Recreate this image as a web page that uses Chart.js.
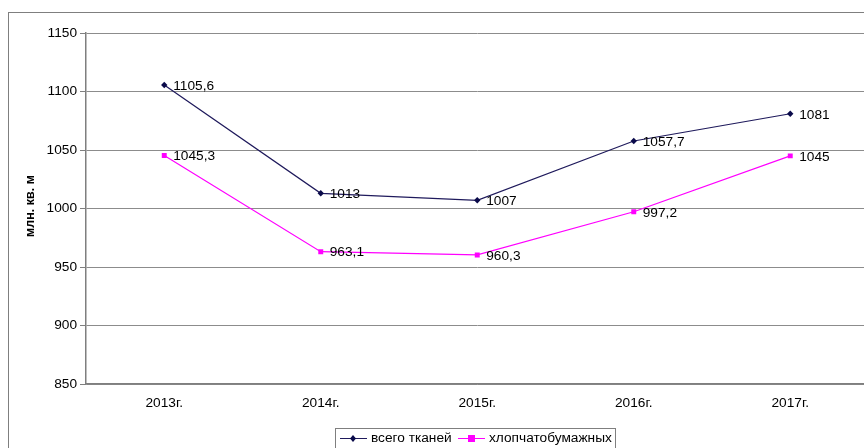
<!DOCTYPE html>
<html>
<head>
<meta charset="utf-8">
<script src="https://cdn.jsdelivr.net/npm/chart.js@4"></script>
<style>
  html, body { margin: 0; padding: 0; background: #fff; overflow: hidden; }
  #frame { position: absolute; left: 8px; top: 12px; width: 900px; height: 500px; border: 1px solid #7f7f7f; }
  #wrap { position: absolute; left: 0; top: 0; width: 872px; height: 460px; }
</style>
</head>
<body>
<div id="frame"></div>
<div id="wrap"><canvas id="chart" width="872" height="460"></canvas></div>
<script>
// Production of fabrics, mln sq. m
const years = ['2013г.', '2014г.', '2015г.', '2016г.', '2017г.'];
const totalFabrics = [1105.6, 1013, 1007, 1057.7, 1081];
const cottonFabrics = [1045.3, 963.1, 960.3, 997.2, 1045];
const yTicks = [850, 900, 950, 1000, 1050, 1100, 1150];

const fontFamily = '"Liberation Sans", Arial, sans-serif';
const fontSize = 13.7;

function fmt(v) {
    return String(v).replace('.', ',');
}

// value labels to the right of each point
const valueLabels = {
    id: 'valueLabels',
    afterDatasetsDraw(chart) {
        const ctx = chart.ctx;
        ctx.save();
        ctx.font = fontSize + 'px ' + fontFamily;
        ctx.fillStyle = '#000';
        ctx.textAlign = 'left';
        ctx.textBaseline = 'middle';
        chart.data.datasets.forEach((ds, i) => {
            chart.getDatasetMeta(i).data.forEach((pt, j) => {
                ctx.fillText(fmt(ds.data[j]), pt.x + 9, pt.y + 1);
            });
        });
        ctx.restore();
    }
};

// y axis title and boxed legend at the bottom
const extras = {
    id: 'extras',
    afterDraw(chart) {
        const ctx = chart.ctx;
        ctx.save();
        ctx.font = 'bold 12.5px ' + fontFamily;
        ctx.fillStyle = '#000';
        ctx.textAlign = 'center';
        ctx.textBaseline = 'middle';
        ctx.translate(31, 206);
        ctx.rotate(-Math.PI / 2);
        ctx.fillText('млн. кв. м', 0, 0);
        ctx.restore();

        ctx.save();
        ctx.strokeStyle = '#7f7f7f';
        ctx.lineWidth = 1;
        ctx.strokeRect(335.5, 428.5, 280, 40);
        ctx.font = fontSize + 'px ' + fontFamily;
        ctx.textBaseline = 'middle';
        ctx.textAlign = 'left';
        const items = [{ x: 340, ds: chart.data.datasets[0], shape: 'diamond' },
                       { x: 458, ds: chart.data.datasets[1], shape: 'square' }];
        const y = 438;
        items.forEach(it => {
            ctx.strokeStyle = it.ds.borderColor;
            ctx.fillStyle = it.ds.backgroundColor;
            ctx.beginPath();
            ctx.moveTo(it.x, y + 0.5);
            ctx.lineTo(it.x + 27, y + 0.5);
            ctx.stroke();
            const cx = it.x + 13;
            if (it.shape === 'diamond') {
                ctx.beginPath();
                ctx.moveTo(cx, y - 3);
                ctx.lineTo(cx + 3, y + 0.5);
                ctx.lineTo(cx, y + 4);
                ctx.lineTo(cx - 3, y + 0.5);
                ctx.closePath();
                ctx.fill();
            } else {
                ctx.fillRect(cx - 3, y - 3, 7, 7);
            }
            ctx.fillStyle = '#000';
            ctx.fillText(it.ds.label, it.x + 31, y);
        });
        ctx.restore();
    }
};

const ctx = document.getElementById('chart').getContext('2d');
new Chart(ctx, {
    type: 'line',
    data: {
        labels: years,
        datasets: [{
            label: 'всего тканей',
            data: totalFabrics,
            borderColor: '#1f1a5c',
            backgroundColor: '#0a0a4a',
            borderWidth: 1.2,
            pointStyle: 'rectRot',
            pointRadius: 3.2,
            pointHoverRadius: 3.2,
            pointBorderWidth: 0,
            tension: 0
        }, {
            label: 'хлопчатобумажных',
            data: cottonFabrics,
            borderColor: '#ff00ff',
            backgroundColor: '#ff00ff',
            borderWidth: 1.2,
            pointStyle: 'rect',
            pointRadius: 3.5,
            pointHoverRadius: 3.5,
            pointBorderWidth: 0,
            tension: 0
        }]
    },
    options: {
        responsive: false,
        animation: false,
        layout: { padding: { left: 0, top: 33, right: 3.5, bottom: 0 } },
        plugins: {
            legend: { display: false },
            tooltip: { enabled: false }
        },
        scales: {
            x: {
                offset: true,
                afterFit(scale) { scale.height = 76; },
                grid: { display: false, drawTicks: false },
                border: { color: '#7f7f7f', width: 1.5 },
                ticks: {
                    color: '#000',
                    padding: 11,
                    maxRotation: 0,
                    font: { family: fontFamily, size: fontSize }
                }
            },
            y: {
                min: 850,
                max: 1150,
                afterFit(scale) { scale.width = 86; },
                afterBuildTicks(scale) { scale.ticks = yTicks.map(v => ({ value: v })); },
                grid: { color: '#8c8c8c', lineWidth: 1, tickLength: 6, tickColor: '#7f7f7f' },
                border: { color: '#7f7f7f', width: 1.5 },
                ticks: {
                    color: '#000',
                    padding: 3,
                    font: { family: fontFamily, size: fontSize },
                    callback: v => String(v)
                }
            }
        }
    },
    plugins: [valueLabels, extras]
});
</script>
</body>
</html>
